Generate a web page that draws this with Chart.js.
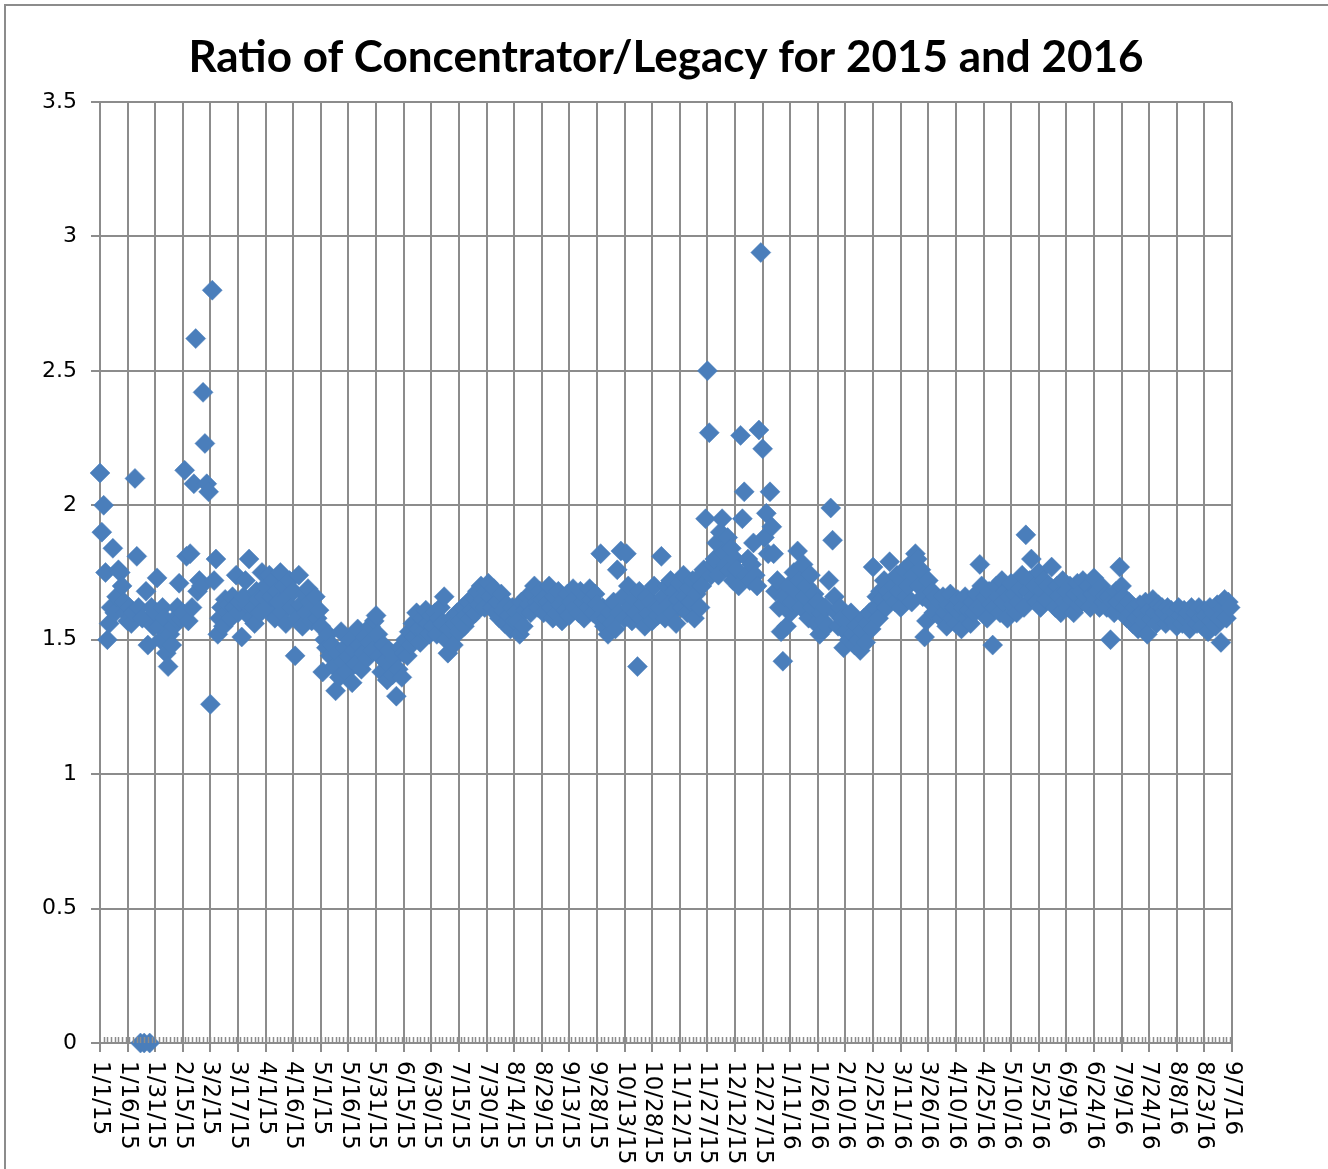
<!DOCTYPE html>
<html>
<head>
<meta charset="utf-8">
<script src="https://cdn.jsdelivr.net/npm/chart.js@4.4.1/dist/chart.umd.min.js"></script>
<style>
  html, body { margin: 0; padding: 0; background: #fff; }
  canvas { display: block; }
</style>
</head>
<body>
<canvas id="ratio" width="1328" height="1169"></canvas>
<script>
// daily ratio values, one array per month (index = day of month - 1)
var jan15 = [2.12, 1.90, 2.00, 1.75, 1.50, 1.56, 1.62, 1.84, 1.60, 1.66, 1.76, 1.75, 1.70, 1.64, 1.60, 1.57, 1.62, 1.56, 1.60, 2.10, 1.81, 1.62, 0, 1.58, 0, 1.68, 1.48, 0, 1.62, 1.55, 1.60];
var feb15 = [1.73, 1.55, 1.50, 1.62, 1.58, 1.45, 1.40, 1.52, 1.48, 1.55, 1.58, 1.62, 1.71, 1.58, 1.60, 2.13, 1.81, 1.57, 1.82, 1.62, 2.08, 2.62, 1.68, 1.72, 1.70, 2.42, 2.23, 2.08];
var mar15 = [2.05, 1.26, 2.80, 1.72, 1.80, 1.52, 1.58, 1.62, 1.55, 1.65, 1.60, 1.63, 1.58, 1.66, 1.62, 1.74, 1.60, 1.64, 1.51, 1.66, 1.72, 1.63, 1.80, 1.58, 1.62, 1.56, 1.68, 1.65, 1.60, 1.75, 1.66];
var apr15 = [1.70, 1.62, 1.74, 1.66, 1.72, 1.58, 1.68, 1.64, 1.75, 1.60, 1.70, 1.56, 1.66, 1.72, 1.62, 1.68, 1.44, 1.58, 1.74, 1.63, 1.55, 1.67, 1.60, 1.69, 1.64, 1.57, 1.62, 1.66, 1.58, 1.61];
var may15 = [1.55, 1.38, 1.50, 1.47, 1.52, 1.44, 1.48, 1.40, 1.31, 1.45, 1.36, 1.53, 1.42, 1.47, 1.38, 1.44, 1.50, 1.34, 1.46, 1.41, 1.54, 1.48, 1.39, 1.45, 1.51, 1.43, 1.49, 1.55, 1.46, 1.57, 1.59];
var jun15 = [1.52, 1.44, 1.38, 1.48, 1.42, 1.35, 1.46, 1.40, 1.37, 1.43, 1.29, 1.39, 1.47, 1.36, 1.45, 1.50, 1.44, 1.53, 1.48, 1.56, 1.51, 1.60, 1.54, 1.49, 1.58, 1.53, 1.61, 1.56, 1.52, 1.59];
var jul15 = [1.55, 1.60, 1.52, 1.58, 1.62, 1.56, 1.66, 1.50, 1.45, 1.54, 1.58, 1.48, 1.56, 1.60, 1.53, 1.57, 1.62, 1.55, 1.59, 1.64, 1.58, 1.61, 1.66, 1.60, 1.68, 1.63, 1.70, 1.65, 1.62, 1.68, 1.71];
var aug15 = [1.66, 1.62, 1.69, 1.60, 1.64, 1.58, 1.67, 1.61, 1.56, 1.63, 1.59, 1.54, 1.62, 1.57, 1.60, 1.57, 1.52, 1.64, 1.55, 1.61, 1.66, 1.63, 1.60, 1.67, 1.70, 1.64, 1.62, 1.68, 1.65, 1.60, 1.66];
var sep15 = [1.64, 1.70, 1.62, 1.58, 1.66, 1.60, 1.68, 1.63, 1.57, 1.65, 1.61, 1.67, 1.59, 1.64, 1.69, 1.62, 1.66, 1.60, 1.68, 1.64, 1.58, 1.66, 1.62, 1.69, 1.65, 1.60, 1.67, 1.63, 1.58, 1.82];
var oct15 = [1.62, 1.55, 1.58, 1.52, 1.60, 1.56, 1.64, 1.54, 1.76, 1.60, 1.83, 1.66, 1.58, 1.82, 1.70, 1.62, 1.57, 1.65, 1.60, 1.40, 1.68, 1.58, 1.63, 1.55, 1.66, 1.60, 1.64, 1.57, 1.70, 1.62, 1.59];
var nov15 = [1.62, 1.81, 1.66, 1.58, 1.70, 1.63, 1.72, 1.60, 1.68, 1.56, 1.65, 1.71, 1.62, 1.74, 1.66, 1.60, 1.69, 1.64, 1.72, 1.58, 1.67, 1.73, 1.62, 1.70, 1.76, 1.95, 2.50, 2.27, 1.74, 1.78];
var dec15 = [1.80, 1.86, 1.74, 1.90, 1.95, 1.82, 1.78, 1.88, 1.76, 1.84, 1.72, 1.80, 1.76, 1.70, 2.26, 1.95, 2.05, 1.74, 1.80, 1.72, 1.78, 1.86, 1.74, 1.70, 2.28, 2.94, 2.21, 1.88, 1.97, 1.82, 2.05];
var jan16 = [1.92, 1.82, 1.68, 1.72, 1.62, 1.53, 1.42, 1.66, 1.55, 1.70, 1.60, 1.64, 1.75, 1.68, 1.83, 1.72, 1.62, 1.78, 1.66, 1.70, 1.58, 1.74, 1.62, 1.67, 1.56, 1.64, 1.52, 1.60, 1.57, 1.62, 1.55];
var feb16 = [1.72, 1.99, 1.87, 1.66, 1.60, 1.55, 1.62, 1.58, 1.47, 1.53, 1.57, 1.50, 1.60, 1.52, 1.48, 1.55, 1.50, 1.46, 1.53, 1.58, 1.49, 1.56, 1.60, 1.54, 1.77, 1.62, 1.66, 1.58, 1.68];
var mar16 = [1.65, 1.72, 1.62, 1.68, 1.79, 1.66, 1.70, 1.64, 1.74, 1.68, 1.62, 1.72, 1.76, 1.66, 1.70, 1.78, 1.64, 1.74, 1.82, 1.80, 1.70, 1.76, 1.66, 1.51, 1.57, 1.72, 1.64, 1.68, 1.60, 1.66, 1.62];
var apr16 = [1.64, 1.58, 1.66, 1.60, 1.55, 1.63, 1.67, 1.58, 1.62, 1.56, 1.65, 1.60, 1.54, 1.62, 1.66, 1.58, 1.61, 1.56, 1.64, 1.60, 1.67, 1.62, 1.78, 1.70, 1.62, 1.66, 1.58, 1.68, 1.63, 1.48];
var may16 = [1.62, 1.70, 1.66, 1.60, 1.72, 1.64, 1.68, 1.58, 1.66, 1.71, 1.63, 1.67, 1.60, 1.64, 1.69, 1.74, 1.62, 1.89, 1.68, 1.72, 1.80, 1.66, 1.70, 1.64, 1.75, 1.62, 1.68, 1.72, 1.65, 1.70, 1.66];
var jun16 = [1.77, 1.68, 1.62, 1.70, 1.66, 1.60, 1.72, 1.64, 1.68, 1.62, 1.70, 1.65, 1.60, 1.67, 1.71, 1.63, 1.68, 1.72, 1.64, 1.66, 1.70, 1.62, 1.67, 1.73, 1.65, 1.68, 1.62, 1.70, 1.64, 1.66];
var jul16 = [1.62, 1.66, 1.50, 1.64, 1.60, 1.68, 1.64, 1.77, 1.70, 1.66, 1.62, 1.58, 1.64, 1.60, 1.56, 1.62, 1.58, 1.54, 1.63, 1.60, 1.57, 1.64, 1.52, 1.61, 1.58, 1.65, 1.60, 1.56, 1.63, 1.59, 1.62];
var aug16 = [1.60, 1.56, 1.62, 1.58, 1.61, 1.57, 1.60, 1.55, 1.62, 1.59, 1.56, 1.61, 1.58, 1.60, 1.54, 1.62, 1.57, 1.60, 1.56, 1.62, 1.58, 1.55, 1.61, 1.59, 1.53, 1.62, 1.57, 1.60, 1.55, 1.63, 1.58];
var sep16 = [1.49, 1.62, 1.65, 1.58, 1.64, 1.62];

// [year, month index, values]
var months = [
    [2015, 0, jan15], [2015, 1, feb15], [2015, 2, mar15], [2015, 3, apr15],
    [2015, 4, may15], [2015, 5, jun15], [2015, 6, jul15], [2015, 7, aug15],
    [2015, 8, sep15], [2015, 9, oct15], [2015, 10, nov15], [2015, 11, dec15],
    [2016, 0, jan16], [2016, 1, feb16], [2016, 2, mar16], [2016, 3, apr16],
    [2016, 4, may16], [2016, 5, jun16], [2016, 6, jul16], [2016, 7, aug16],
    [2016, 8, sep16]
];

var xTickLabels = ['1/1/15', '1/16/15', '1/31/15', '2/15/15', '3/2/15', '3/17/15', '4/1/15', '4/16/15',
    '5/1/15', '5/16/15', '5/31/15', '6/15/15', '6/30/15', '7/15/15', '7/30/15', '8/14/15', '8/29/15',
    '9/13/15', '9/28/15', '10/13/15', '10/28/15', '11/12/15', '11/27/15', '12/12/15', '12/27/15',
    '1/11/16', '1/26/16', '2/10/16', '2/25/16', '3/11/16', '3/26/16', '4/10/16', '4/25/16', '5/10/16',
    '5/25/16', '6/9/16', '6/24/16', '7/9/16', '7/24/16', '8/8/16', '8/23/16', '9/7/16'];

var yTicks = [0, 0.5, 1, 1.5, 2, 2.5, 3, 3.5];

var origin = Date.UTC(2015, 0, 1);
var points = [];
months.forEach(function (m) {
    m[2].forEach(function (v, i) {
        var day = Math.round((Date.UTC(m[0], m[1], i + 1) - origin) / 86400000);
        points.push({ x: day, y: v });
    });
});

var gridColor = '#8c8c8c';

var extras = {
    id: 'extras',
    beforeDraw: function (chart) {
        var c = chart.ctx;
        c.save();
        c.fillStyle = '#fff';
        c.fillRect(0, 0, chart.width, chart.height);
        // frame of the embedded chart
        c.strokeStyle = gridColor;
        c.lineWidth = 2;
        c.beginPath();
        c.moveTo(5, chart.height);
        c.lineTo(5, 5);
        c.lineTo(chart.width, 5);
        c.stroke();
        c.restore();
    },
    afterDraw: function (chart) {
        var c = chart.ctx;
        var xs = chart.scales.x;
        var area = chart.chartArea;
        c.save();
        // title
        c.fillStyle = '#000';
        c.font = 'bold 44px Lato';
        c.textAlign = 'center';
        c.textBaseline = 'alphabetic';
        c.fillText('Ratio of Concentrator/Legacy for 2015 and 2016', 666, 72);
        // minor ticks every 2 days
        c.strokeStyle = gridColor;
        c.lineWidth = 1.5;
        c.beginPath();
        for (var d = 2; d < xs.max; d += 2) {
            var px = Math.round(xs.getPixelForValue(d)) + 0.5;
            c.moveTo(px, area.bottom);
            c.lineTo(px, area.bottom - 6);
        }
        c.stroke();
        // rotated date labels
        c.font = '23px "DejaVu Sans"';
        c.textAlign = 'left';
        c.textBaseline = 'middle';
        xs.ticks.forEach(function (t, i) {
            var px = xs.getPixelForValue(t.value);
            c.save();
            c.translate(px, area.bottom + 18);
            c.rotate(Math.PI / 2);
            c.fillText(xTickLabels[i], 0, 0);
            c.restore();
        });
        c.restore();
    }
};

var ctx = document.getElementById('ratio').getContext('2d');
var ratioChart = new Chart(ctx, {
    type: 'scatter',
    data: {
        datasets: [{
            label: 'Ratio',
            data: points,
            pointStyle: 'rectRot',
            pointRadius: 10,
            pointHoverRadius: 10,
            backgroundColor: '#4a7ebb',
            borderColor: '#4a7ebb',
            borderWidth: 0.5,
            clip: false
        }]
    },
    options: {
        responsive: false,
        animation: false,
        events: [],
        layout: { padding: { top: 102, left: 40, right: 96, bottom: 0 } },
        plugins: {
            legend: { display: false },
            title: { display: false },
            tooltip: { enabled: false }
        },
        scales: {
            x: {
                type: 'linear',
                min: 0,
                max: (xTickLabels.length - 1) * 15,
                ticks: { stepSize: 15, display: false },
                grid: { color: gridColor, lineWidth: 2, tickLength: 9, drawTicks: true },
                border: { color: gridColor, width: 2 },
                afterFit: function (s) { s.height = 126; }
            },
            y: {
                min: yTicks[0],
                max: yTicks[yTicks.length - 1],
                ticks: {
                    stepSize: 0.5,
                    padding: 14,
                    color: '#000',
                    font: { family: 'DejaVu Sans', size: 22 },
                    callback: function (v) { return String(v); }
                },
                grid: { color: gridColor, lineWidth: 2, tickLength: 9 },
                border: { color: gridColor, width: 2 },
                afterFit: function (s) { s.width = 60; }
            }
        }
    },
    plugins: [extras]
});
</script>
</body>
</html>
